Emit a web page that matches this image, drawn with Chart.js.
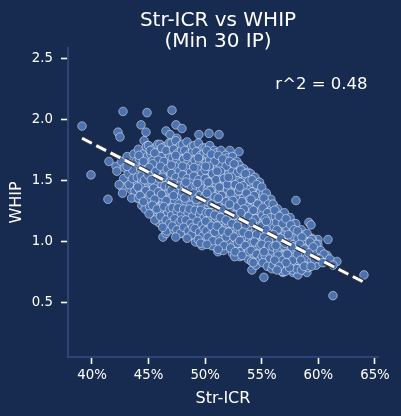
<!DOCTYPE html>
<html>
<head>
<meta charset="utf-8">
<script src="https://cdn.jsdelivr.net/npm/chart.js@4.4.0/dist/chart.umd.min.js"></script>
<style>
  html,body{margin:0;padding:0;background:#172a4f;}
  #c{display:block;}
</style>
</head>
<body>
<canvas id="c" width="401" height="416"></canvas>
<script>
// ---------- data ----------
const titleLines = ["Str-ICR vs WHIP", "(Min 30 IP)"];
const xLabel = "Str-ICR";
const yLabel = "WHIP";
const xTicks = [40, 45, 50, 55, 60, 65];
const yTicks = [0.5, 1.0, 1.5, 2.0, 2.5];
const r2Text = "r^2 = 0.48";
const r2Pos = [56.2, 2.25];
// regression fit endpoints (Str-ICR %, WHIP)
const fitX = [39.12, 64.03];
const fitY = [1.85, 0.67];

// pitchers: [Str-ICR %, WHIP]
const outliers = [
 [39.12,1.95],[42.74,2.07],[44.86,2.06],[47.07,2.08],[42.30,1.90],[42.47,1.86],[44.33,1.96],[44.77,1.90],
 [46.54,1.91],[47.42,1.96],[47.95,1.93],[41.50,1.66],[42.12,1.62],[39.91,1.55],[42.65,1.45],[43.45,1.43],
 [41.41,1.35],[43.98,1.36],[44.68,1.37],[49.45,1.88],[50.34,1.89],[51.22,1.88],[52.19,1.75],[52.99,1.74],
 [51.66,1.71],[58.02,1.34],[59.17,1.16],[59.35,1.14],[59.96,1.02],[60.85,1.02],[61.64,0.84],[64.03,0.73],
 [61.29,0.56],[60.76,0.89],[59.96,0.98],[59.43,1.03],[56.87,0.75],[57.76,0.75],[58.20,0.73],[58.99,0.75],
 [55.19,0.71],[54.13,0.77],[45.92,1.19],[46.27,1.04],[46.54,1.07],[47.42,1.08],[48.04,1.07],[49.72,0.97],
 [50.69,0.97],[51.13,0.92],[52.63,0.93],[53.07,0.88],[54.66,1.49],[55.28,1.39],[55.99,1.30],[59.79,0.89],
 [44.6,1.83],[44.9,1.79],[46.9,1.88],[47.5,1.85]
];
const core42to46 = [
 [42.2,1.58],[42.6,1.66],[42.8,1.52],[42.4,1.47],[42.9,1.61],[42.7,1.40],
 [43.1,1.70],[43.4,1.64],[43.7,1.72],[43.2,1.56],[43.6,1.59],[43.9,1.50],[43.3,1.47],[43.8,1.42],[43.5,1.36],[43.1,1.62],[43.6,1.52],[43.9,1.66],
 [44.1,1.76],[44.5,1.72],[44.8,1.78],[44.2,1.68],[44.6,1.64],[44.9,1.70],[44.3,1.60],[44.7,1.56],[44.0,1.53],[44.4,1.50],[44.8,1.47],[44.2,1.43],[44.6,1.39],[44.9,1.34],[44.4,1.30],[44.7,1.27],[44.1,1.36],[44.5,1.58],[44.9,1.62],[44.3,1.46],
 [45.0,1.79],[45.4,1.76],[45.8,1.80],[45.2,1.72],[45.6,1.69],[45.9,1.73],[45.1,1.65],[45.5,1.62],[45.8,1.60],[45.3,1.57],[45.7,1.54],[45.0,1.50],[45.4,1.47],[45.9,1.45],[45.2,1.42],[45.6,1.38],[45.0,1.35],[45.5,1.32],[45.8,1.28],[45.3,1.25],[45.7,1.20],[45.9,1.16],[45.1,1.29],[45.6,1.49],[45.4,1.67],[45.8,1.36],[45.2,1.60],
 [46.0,1.80],[46.4,1.78],[46.8,1.81],[46.2,1.74],[46.6,1.71],[46.9,1.75],[46.1,1.67],[46.5,1.64],[46.8,1.66],[46.3,1.60],[46.7,1.57],[46.0,1.55],[46.4,1.52],[46.9,1.50],[46.2,1.47],[46.6,1.44],[46.0,1.41],[46.5,1.38],[46.8,1.35],[46.3,1.32],[46.7,1.28],[46.1,1.26],[46.5,1.22],[46.9,1.19],[46.3,1.16],[46.7,1.12],[46.6,1.09],[46.2,1.36],[46.8,1.42],[46.4,1.59],[46.1,1.70],[46.7,1.24],[46.9,1.61]
];
const core47to50 = [
 [47.0,1.81],[47.4,1.83],[47.8,1.79],[47.2,1.76],[47.6,1.73],[47.9,1.75],[47.1,1.69],[47.5,1.67],[47.8,1.64],[47.3,1.62],[47.7,1.58],[47.0,1.56],[47.4,1.53],[47.9,1.51],[47.2,1.48],[47.6,1.45],[47.0,1.42],[47.5,1.40],[47.8,1.37],[47.3,1.34],[47.7,1.31],[47.1,1.28],[47.5,1.25],[47.9,1.22],[47.3,1.19],[47.7,1.16],[47.1,1.13],[47.5,1.10],[47.8,1.07],[47.4,1.04],[47.2,1.38],[47.8,1.46],[47.4,1.71],[47.6,1.28],[47.0,1.63],[47.9,1.18],
 [48.0,1.80],[48.4,1.82],[48.8,1.78],[48.2,1.75],[48.6,1.72],[48.9,1.74],[48.1,1.68],[48.5,1.66],[48.8,1.63],[48.3,1.61],[48.7,1.57],[48.0,1.55],[48.4,1.52],[48.9,1.50],[48.2,1.47],[48.6,1.44],[48.0,1.41],[48.5,1.39],[48.8,1.36],[48.3,1.33],[48.7,1.30],[48.1,1.27],[48.5,1.24],[48.9,1.21],[48.3,1.18],[48.7,1.15],[48.1,1.12],[48.5,1.09],[48.8,1.06],[48.4,1.03],[48.2,1.36],[48.8,1.45],[48.4,1.70],[48.6,1.27],[48.0,1.62],[48.9,1.12],[48.3,1.49],
 [49.0,1.79],[49.4,1.81],[49.8,1.77],[49.2,1.74],[49.6,1.71],[49.9,1.73],[49.1,1.67],[49.5,1.65],[49.8,1.62],[49.3,1.60],[49.7,1.56],[49.0,1.54],[49.4,1.51],[49.9,1.49],[49.2,1.46],[49.6,1.43],[49.0,1.40],[49.5,1.38],[49.8,1.35],[49.3,1.32],[49.7,1.29],[49.1,1.26],[49.5,1.23],[49.9,1.20],[49.3,1.17],[49.7,1.14],[49.1,1.11],[49.5,1.08],[49.8,1.05],[49.4,1.02],[49.6,0.99],[49.2,1.35],[49.8,1.44],[49.4,1.69],[49.6,1.26],[49.0,1.61],[49.9,1.11],[49.3,1.48],
 [50.0,1.77],[50.4,1.79],[50.8,1.75],[50.2,1.72],[50.6,1.69],[50.9,1.71],[50.1,1.65],[50.5,1.63],[50.8,1.60],[50.3,1.58],[50.7,1.54],[50.0,1.52],[50.4,1.49],[50.9,1.47],[50.2,1.44],[50.6,1.41],[50.0,1.38],[50.5,1.36],[50.8,1.33],[50.3,1.30],[50.7,1.27],[50.1,1.24],[50.5,1.21],[50.9,1.18],[50.3,1.15],[50.7,1.12],[50.1,1.09],[50.5,1.06],[50.8,1.03],[50.4,1.00],[50.6,0.97],[50.2,1.33],[50.8,1.42],[50.4,1.67],[50.6,1.24],[50.0,1.59],[50.9,1.09],[50.3,1.46]
];
const core51to54 = [
 [51.0,1.73],[51.4,1.75],[51.8,1.71],[51.2,1.68],[51.6,1.65],[51.9,1.67],[51.1,1.61],[51.5,1.59],[51.8,1.56],[51.3,1.54],[51.7,1.50],[51.0,1.48],[51.4,1.45],[51.9,1.43],[51.2,1.40],[51.6,1.37],[51.0,1.34],[51.5,1.32],[51.8,1.29],[51.3,1.26],[51.7,1.23],[51.1,1.20],[51.5,1.17],[51.9,1.14],[51.3,1.11],[51.7,1.08],[51.1,1.05],[51.5,1.02],[51.8,0.99],[51.4,0.96],[51.6,0.93],[51.2,1.29],[51.8,1.38],[51.4,1.63],[51.6,1.20],[51.0,1.55],[51.9,1.05],[51.3,1.42],
 [52.0,1.69],[52.4,1.70],[52.8,1.66],[52.2,1.63],[52.6,1.60],[52.9,1.62],[52.1,1.56],[52.5,1.54],[52.8,1.51],[52.3,1.49],[52.7,1.45],[52.0,1.43],[52.4,1.40],[52.9,1.38],[52.2,1.35],[52.6,1.32],[52.0,1.29],[52.5,1.27],[52.8,1.24],[52.3,1.21],[52.7,1.18],[52.1,1.15],[52.5,1.12],[52.9,1.09],[52.3,1.06],[52.7,1.03],[52.1,1.00],[52.5,0.97],[52.8,0.94],[52.4,0.91],[52.6,0.88],[52.2,1.24],[52.8,1.33],[52.4,1.58],[52.6,1.15],[52.0,1.50],[52.9,1.00],
 [53.0,1.63],[53.4,1.60],[53.8,1.57],[53.2,1.56],[53.6,1.53],[53.9,1.50],[53.1,1.49],[53.5,1.46],[53.8,1.43],[53.3,1.41],[53.7,1.37],[53.0,1.35],[53.4,1.32],[53.9,1.30],[53.2,1.27],[53.6,1.24],[53.0,1.21],[53.5,1.19],[53.8,1.16],[53.3,1.13],[53.7,1.10],[53.1,1.07],[53.5,1.04],[53.9,1.01],[53.3,0.98],[53.7,0.95],[53.1,0.92],[53.5,0.89],[53.8,0.86],[53.4,1.36],[53.6,1.15],[53.2,1.44],[53.9,1.22],
 [54.0,1.56],[54.4,1.53],[54.8,1.49],[54.2,1.48],[54.6,1.45],[54.9,1.42],[54.1,1.41],[54.5,1.38],[54.8,1.35],[54.3,1.33],[54.7,1.29],[54.0,1.27],[54.4,1.24],[54.9,1.22],[54.2,1.19],[54.6,1.16],[54.0,1.13],[54.5,1.11],[54.8,1.08],[54.3,1.05],[54.7,1.02],[54.1,0.99],[54.5,0.96],[54.9,0.93],[54.3,0.90],[54.7,0.87],[54.1,0.84],[54.5,0.81],[54.6,1.26],[54.2,1.36],[54.8,0.99]
];
const core55to61 = [
 [55.0,1.45],[55.4,1.40],[55.8,1.35],[55.2,1.36],[55.6,1.31],[55.9,1.27],[55.1,1.28],[55.5,1.24],[55.8,1.20],[55.3,1.19],[55.7,1.15],[55.0,1.13],[55.4,1.10],[55.9,1.07],[55.2,1.04],[55.6,1.01],[55.0,0.98],[55.5,0.95],[55.8,0.92],[55.3,0.89],[55.7,0.86],[55.1,0.83],[55.5,0.80],[55.9,0.78],[55.4,1.17],[55.6,0.97],[55.2,0.92],
 [56.0,1.31],[56.4,1.27],[56.8,1.22],[56.2,1.21],[56.6,1.17],[56.9,1.13],[56.1,1.12],[56.5,1.08],[56.8,1.04],[56.3,1.02],[56.7,0.98],[56.0,0.96],[56.4,0.93],[56.9,0.90],[56.2,0.87],[56.6,0.84],[56.0,0.81],[56.5,0.79],[56.8,0.76],[56.3,1.16],[56.7,0.89],
 [57.0,1.24],[57.5,1.20],[57.9,1.15],[57.2,1.12],[57.7,1.08],[57.0,1.05],[57.4,1.01],[57.8,0.98],[57.2,0.95],[57.6,0.92],[57.0,0.89],[57.4,0.85],[57.9,0.83],[57.3,0.80],[57.7,0.77],[57.1,0.76],[57.5,0.88],[57.8,1.05],
 [58.0,1.15],[58.5,1.10],[58.8,1.06],[58.2,1.03],[58.6,0.99],[58.0,0.96],[58.4,0.92],[58.8,0.89],[58.2,0.85],[58.6,0.82],[58.1,0.78],[58.5,0.77],[58.9,0.95],
 [59.0,1.07],[59.4,1.02],[59.8,0.98],[59.2,0.95],[59.6,0.91],[59.0,0.87],[59.4,0.84],[59.8,0.81],[59.1,0.79],
 [60.2,0.93],[60.5,0.90],[60.1,0.86],[60.4,0.83],[61.0,0.86],[61.3,0.81]
];
const fill44to49 = [
 [44.15,1.71],[44.55,1.66],[44.85,1.59],[44.35,1.54],[44.65,1.51],[44.05,1.45],[44.75,1.42],[44.25,1.38],[44.55,1.33],[44.95,1.55],
 [45.15,1.75],[45.55,1.73],[45.85,1.67],[45.35,1.64],[45.05,1.61],[45.65,1.58],[45.95,1.52],[45.25,1.51],[45.45,1.44],[45.85,1.41],[45.15,1.39],[45.55,1.35],[45.35,1.30],[45.75,1.27],[45.05,1.23],[45.55,1.18],
 [46.15,1.77],[46.55,1.75],[46.85,1.69],[46.35,1.66],[46.05,1.62],[46.65,1.60],[46.95,1.54],[46.25,1.53],[46.45,1.46],[46.85,1.45],[46.15,1.39],[46.55,1.34],[46.35,1.29],[46.85,1.27],[46.05,1.21],[46.55,1.18],[46.85,1.15],[46.25,1.12],
 [47.15,1.79],[47.55,1.77],[47.85,1.71],[47.35,1.67],[47.05,1.66],[47.65,1.61],[47.95,1.56],[47.25,1.54],[47.45,1.47],[47.85,1.41],[47.15,1.45],[47.55,1.36],[47.35,1.29],[47.85,1.26],[47.05,1.22],[47.55,1.19],[47.85,1.13],[47.25,1.10],[47.65,1.07],
 [48.15,1.78],[48.55,1.76],[48.85,1.69],[48.35,1.65],[48.05,1.65],[48.65,1.59],[48.95,1.54],[48.25,1.52],[48.45,1.45],[48.85,1.40],[48.15,1.43],[48.55,1.35],[48.35,1.28],[48.85,1.25],[48.05,1.21],[48.55,1.17],[48.85,1.12],[48.25,1.08],[48.65,1.05],
 [49.15,1.77],[49.55,1.75],[49.85,1.68],[49.35,1.64],[49.05,1.64],[49.65,1.58],[49.95,1.53],[49.25,1.51],[49.45,1.44],[49.85,1.39],[49.15,1.42],[49.55,1.33],[49.35,1.26],[49.85,1.24],[49.05,1.19],[49.55,1.15],[49.85,1.10],[49.25,1.06],[49.65,1.03],[49.15,1.00]
];
const fill50to55 = [
 [50.15,1.75],[50.55,1.72],[50.85,1.66],[50.35,1.62],[50.05,1.62],[50.65,1.56],[50.95,1.51],[50.25,1.49],[50.45,1.42],[50.85,1.37],[50.15,1.40],[50.55,1.31],[50.35,1.24],[50.85,1.22],[50.05,1.17],[50.55,1.13],[50.85,1.08],[50.25,1.04],[50.65,1.01],[50.15,0.98],
 [51.15,1.71],[51.55,1.68],[51.85,1.62],[51.35,1.58],[51.05,1.58],[51.65,1.52],[51.95,1.47],[51.25,1.45],[51.45,1.38],[51.85,1.33],[51.15,1.36],[51.55,1.27],[51.35,1.20],[51.85,1.18],[51.05,1.13],[51.55,1.09],[51.85,1.04],[51.25,1.00],[51.65,0.97],[51.15,0.94],
 [52.15,1.66],[52.55,1.64],[52.85,1.57],[52.35,1.53],[52.05,1.53],[52.65,1.47],[52.95,1.42],[52.25,1.40],[52.45,1.34],[52.85,1.29],[52.15,1.31],[52.55,1.22],[52.35,1.15],[52.85,1.13],[52.05,1.08],[52.55,1.04],[52.85,0.99],[52.25,0.95],[52.65,0.92],
 [53.15,1.59],[53.55,1.56],[53.85,1.50],[53.35,1.46],[53.05,1.45],[53.65,1.40],[53.95,1.35],[53.25,1.33],[53.45,1.27],[53.85,1.21],[53.15,1.24],[53.55,1.14],[53.35,1.08],[53.85,1.06],[53.05,1.01],[53.55,0.97],[53.85,0.92],[53.25,0.89],
 [54.15,1.51],[54.55,1.47],[54.85,1.40],[54.35,1.38],[54.05,1.35],[54.65,1.31],[54.95,1.26],[54.25,1.26],[54.45,1.19],[54.85,1.13],[54.15,1.16],[54.55,1.06],[54.35,1.00],[54.85,0.97],[54.05,0.93],[54.55,0.90],[54.85,0.85],[54.25,0.83],
 [55.15,1.40],[55.55,1.34],[55.85,1.28],[55.35,1.25],[55.05,1.22],[55.65,1.18],[55.95,1.12],[55.25,1.13],[55.45,1.06],[55.85,1.01],[55.15,1.02],[55.55,0.92],[55.35,0.85],[55.85,0.84],[55.05,0.88],[55.65,0.80]
];
const fill56to59 = [
 [56.15,1.26],[56.55,1.21],[56.85,1.15],[56.35,1.10],[56.05,1.06],[56.65,1.03],[56.95,0.97],[56.25,0.97],[56.45,0.89],[56.85,0.85],[56.15,0.85],[56.55,0.80],[56.35,0.77],
 [57.15,1.19],[57.55,1.14],[57.85,1.10],[57.35,1.06],[57.05,0.99],[57.65,0.96],[57.25,0.90],[57.75,0.85],[57.45,0.79],[57.15,0.83],
 [58.15,1.09],[58.55,1.04],[58.35,0.98],[58.75,0.94],[58.15,0.90],[58.45,0.85],[58.75,0.80],
 [59.25,1.00],[59.55,0.96],[59.15,0.91],[59.65,0.86],[59.35,0.80]
];

// ---------- chart ----------
const pitcherPts = [...outliers, ...core42to46, ...fill44to49, ...core47to50, ...core51to54, ...fill50to55, ...core55to61, ...fill56to59]
  .map(p => ({x: p[0], y: p[1]}));
const fitPts = fitX.map((x, i) => ({x: x, y: fitY[i]}));

const FONT = "'DejaVu Sans', sans-serif";
const TXT = '#ffffff';
const SPINE = '#2d4475';

const textPlugin = {
  id: 'textPlugin',
  afterDraw(chart) {
    const ctx = chart.ctx;
    ctx.save();
    ctx.fillStyle = TXT;
    ctx.textAlign = 'center';
    ctx.textBaseline = 'alphabetic';
    ctx.font = "20px " + FONT;
    ctx.fillText(titleLines[0], 218, 26);
    ctx.fillText(titleLines[1], 218, 46.5);
    ctx.font = "16.5px " + FONT;
    ctx.textAlign = 'left';
    const xs = chart.scales.x, ys = chart.scales.y;
    ctx.fillText(r2Text, xs.getPixelForValue(r2Pos[0]), ys.getPixelForValue(r2Pos[1]));
    ctx.restore();
  }
};

new Chart(document.getElementById('c'), {
  type: 'scatter',
  data: {
    datasets: [
      {
        label: 'fit',
        data: fitPts,
        showLine: true,
        borderColor: '#ffffff',
        borderWidth: 3,
        borderDash: [11, 5],
        borderCapStyle: 'butt',
        pointRadius: 0,
        order: 0
      },
      {
        label: 'fitOutline',
        data: fitPts,
        showLine: true,
        borderColor: 'rgba(45,50,65,0.95)',
        borderWidth: 5.5,
        borderDash: [11, 5],
        borderCapStyle: 'butt',
        pointRadius: 0,
        order: 1
      },
      {
        label: 'pitchers',
        data: pitcherPts,
        backgroundColor: '#4c72b0',
        borderColor: 'rgba(255,255,255,0.6)',
        borderWidth: 0.8,
        pointRadius: 4.3,
        order: 2
      }
    ]
  },
  options: {
    responsive: false,
    animation: false,
    devicePixelRatio: 1,
    layout: { padding: { top: 48, right: 23, bottom: 0, left: 0 } },
    plugins: { legend: { display: false }, tooltip: { enabled: false }, title: { display: false } },
    scales: {
      x: {
        type: 'linear',
        min: 37.88,
        max: 65.27,
        afterFit(s) { s.height = 59; },
        afterBuildTicks(s) { s.ticks = xTicks.map(v => ({value: v})); },
        grid: { display: true, drawOnChartArea: false, drawTicks: true, tickLength: 7, tickColor: TXT, tickWidth: 1.6 },
        border: { display: true, color: SPINE, width: 2 },
        ticks: { color: TXT, font: { family: FONT, size: 13.3 }, padding: 4, callback: v => v + '%' },
        title: { display: true, text: xLabel, color: TXT, font: { family: FONT, size: 16 }, padding: { top: 0, bottom: 8 } }
      },
      y: {
        type: 'linear',
        min: 0.057,
        max: 2.59,
        afterFit(s) { s.width = 68; },
        afterBuildTicks(s) { s.ticks = yTicks.map(v => ({value: v})); },
        grid: { display: true, drawOnChartArea: false, drawTicks: true, tickLength: 7, tickColor: TXT, tickWidth: 1.6 },
        border: { display: true, color: SPINE, width: 2 },
        ticks: { color: TXT, font: { family: FONT, size: 13.3 }, padding: 8, callback: v => v.toFixed(1) },
        title: { display: true, text: yLabel, color: TXT, font: { family: FONT, size: 16 }, padding: { top: 7, bottom: 0 } }
      }
    }
  },
  plugins: [textPlugin]
});
</script>
</body>
</html>
